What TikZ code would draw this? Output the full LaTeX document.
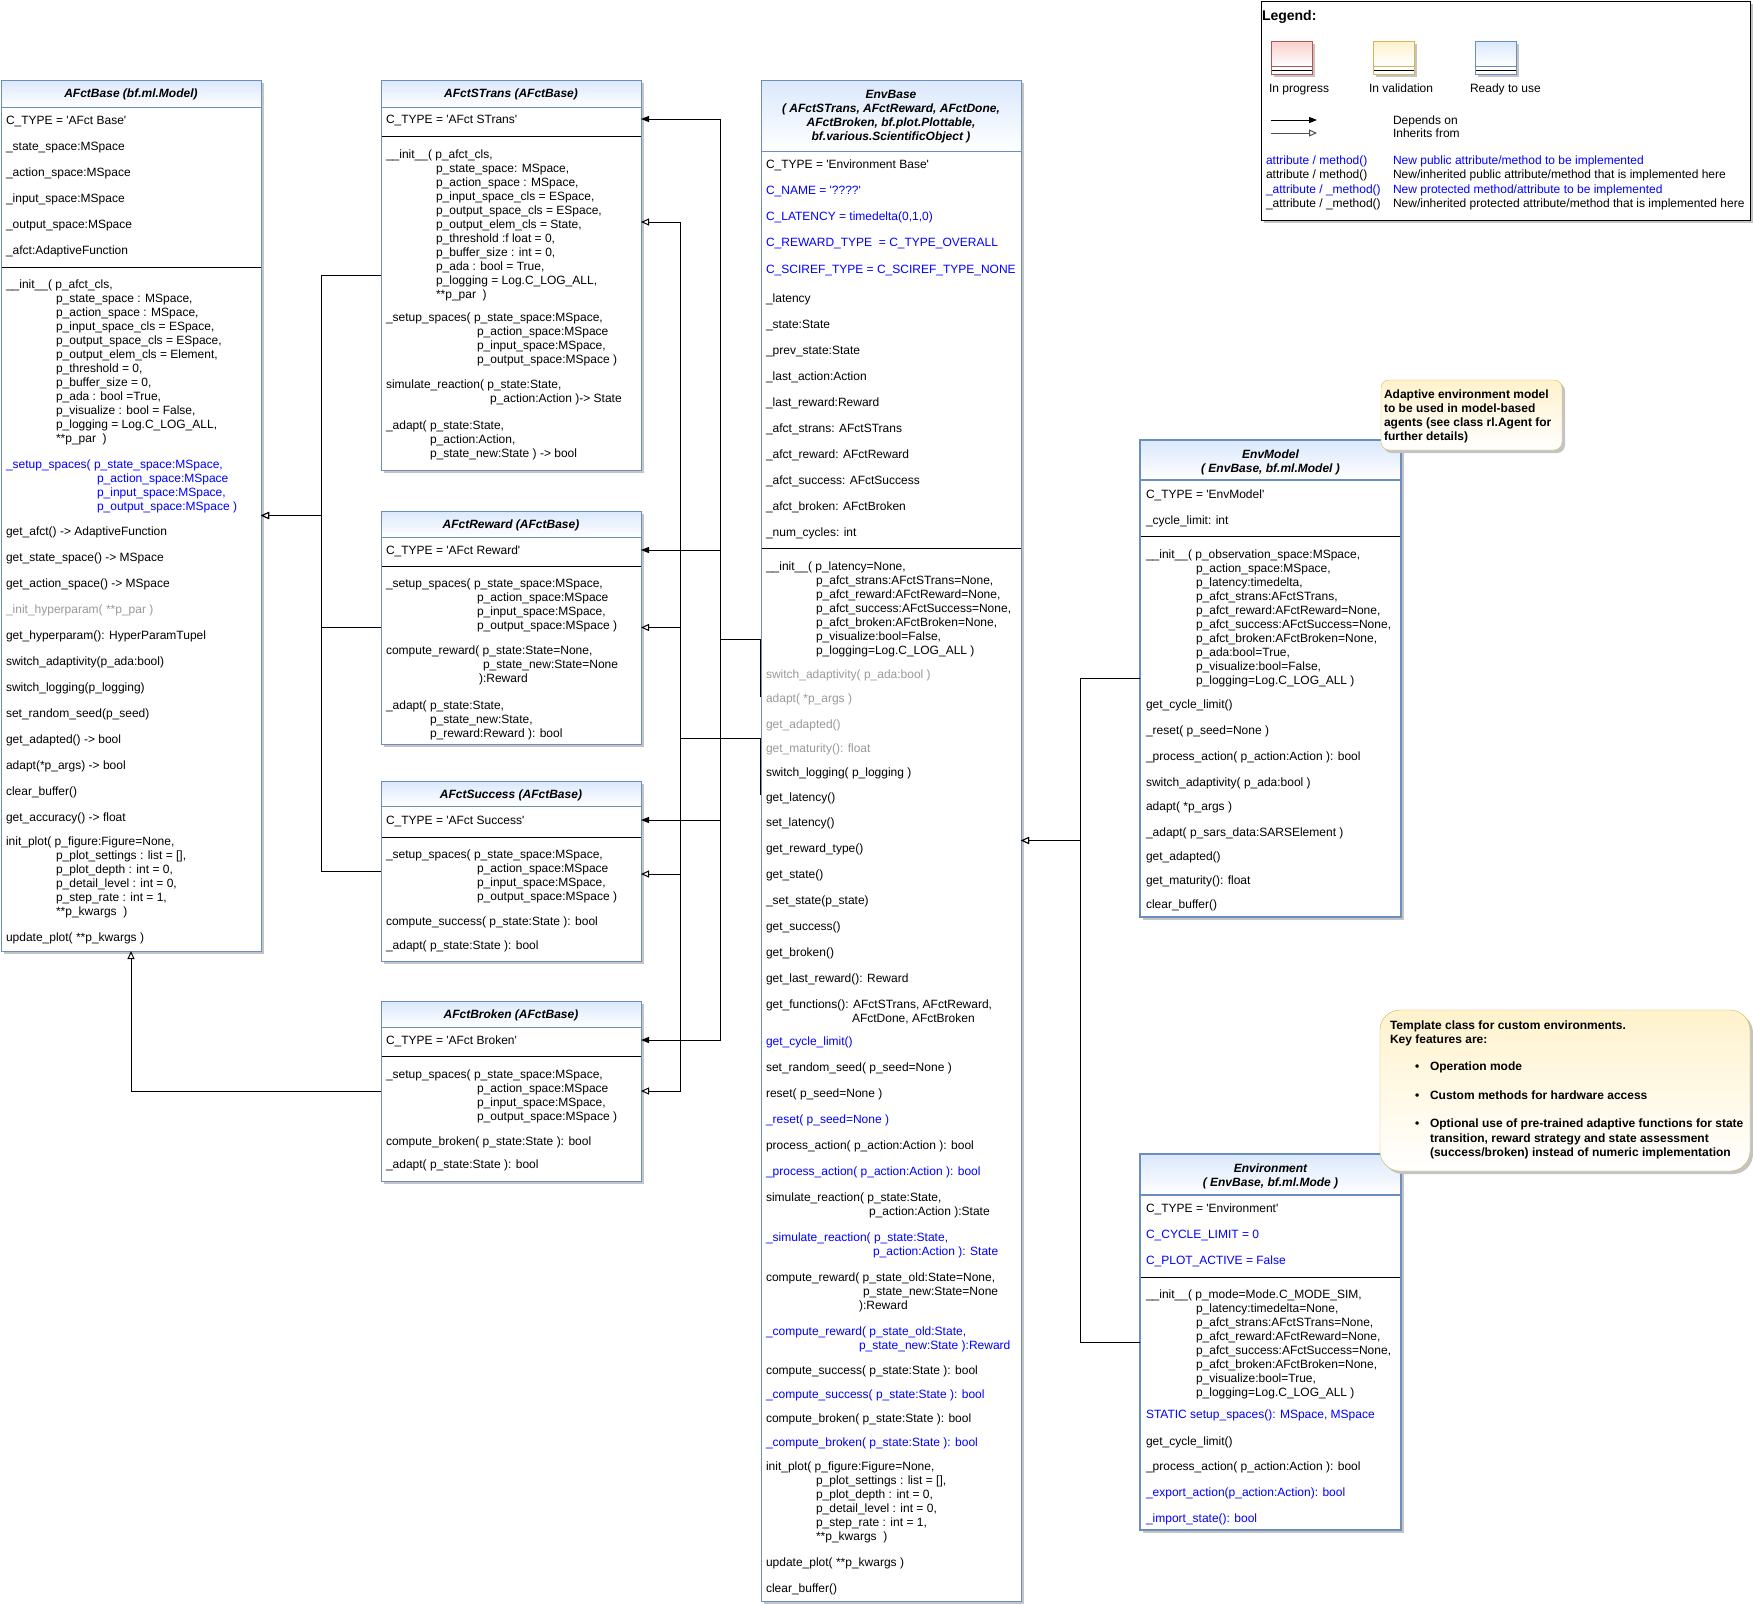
\documentclass[tikz,border=0pt]{standalone}
\usepackage{fontspec}
\setmainfont{Liberation Sans}[Ligatures=TeXOff]
\usetikzlibrary{arrows.meta}

\definecolor{clsblue}{HTML}{6C8EBF}
\definecolor{hdrblue}{HTML}{DAE8FC}
\definecolor{newblue}{HTML}{0000FF}
\definecolor{inhgray}{HTML}{999999}
\definecolor{notey}{HTML}{FFF2CC}
\definecolor{noteb}{HTML}{D6B656}
\definecolor{redfill}{HTML}{F8CECC}
\definecolor{redb}{HTML}{B85450}
\definecolor{shadowc}{HTML}{C4C4C4}

\tikzset{
  txt/.style={anchor=base west, inner sep=0pt, outer sep=0pt, font=\fontsize{12}{14}\selectfont},
  ttl/.style={anchor=base, inner sep=0pt, outer sep=0pt, font=\fontsize{12}{14}\selectfont\bfseries\itshape},
  nb/.style={text=newblue},
  gr/.style={text=inhgray},
  bold/.style={font=\fontsize{12}{14}\selectfont\bfseries},
  boxbody/.style={fill=white, draw=none, inner sep=0pt, outer sep=0pt},
  note/.style={draw=noteb, top color=notey, bottom color=white, inner sep=0pt, outer sep=0pt},
  dep/.style={draw=black, line width=1pt, -{Triangle[length=8pt,width=6pt]}},
  inh/.style={draw=black, line width=1pt, -{Triangle[open,length=8pt,width=7pt,fill=white]}},
}

% one text line: [style]{x}{y of line centre}{text}
\newcounter{tl}
\newcommand\mline[4][]{\stepcounter{tl}\node[txt,#1] (t\arabic{tl}) at (#2,#3+4) {#4};}
% centred bold italic title line: {x}{y}{text}
\newcommand\ctrline[3]{\stepcounter{tl}\node[ttl] (t\arabic{tl}) at (#1,#2+4) {#3};}
% class frame: {name}{x1}{y1}{x2}{y2}{header bottom}{divider}{border width}
\newcommand\umlbox[8]{%
  \fill[shadowc] (#2+3,#3+3) rectangle (#4+3,#5+3);
  \node[boxbody, minimum width=#4-#2, minimum height=#5-#3] (#1) at ({(#2+#4)/2},{(#3+#5)/2}) {};
  \shade[top color=hdrblue, bottom color=white] (#2,#3) rectangle (#4,#6);
  \draw[black, line width=1pt] (#2,#7) -- (#4,#7);
  \draw[clsblue, line width=#8] (#2,#6) -- (#4,#6);
  \draw[clsblue, line width=#8] (#2,#3) rectangle (#4,#5);
}

\begin{document}
\catcode`\_=12
\begin{tikzpicture}[x=1pt,y=-1pt]
\useasboundingbox (0,0) rectangle (1753,1604);
\fill[white] (0,0) rectangle (1753,1604);

% ---------------- AFctBase ----------------
\umlbox{afctbase}{1}{80}{261}{951}{107}{267}{1pt}
\ctrline{131}{93}{AFctBase (bf.ml.Model)}
\mline{6}{120}{C_TYPE = 'AFct Base'}
\mline{6}{146}{_state_space:MSpace}
\mline{6}{172}{_action_space:MSpace}
\mline{6}{198}{_input_space:MSpace}
\mline{6}{224}{_output_space:MSpace}
\mline{6}{250}{_afct:AdaptiveFunction}
\mline{6}{284}{__init__( p_afct_cls,}
\mline{56}{298}{p_state_space : MSpace,}
\mline{56}{312}{p_action_space : MSpace,}
\mline{56}{326}{p_input_space_cls = ESpace,}
\mline{56}{340}{p_output_space_cls = ESpace,}
\mline{56}{354}{p_output_elem_cls = Element,}
\mline{56}{368}{p_threshold = 0,}
\mline{56}{382}{p_buffer_size = 0,}
\mline{56}{396}{p_ada : bool =True,}
\mline{56}{410}{p_visualize : bool = False,}
\mline{56}{424}{p_logging = Log.C_LOG_ALL,}
\mline{56}{438}{**p_par~~)}
\mline[nb]{6}{464}{_setup_spaces( p_state_space:MSpace,}
\mline[nb]{97}{478}{p_action_space:MSpace}
\mline[nb]{97}{492}{p_input_space:MSpace,}
\mline[nb]{97}{506}{p_output_space:MSpace )}
\mline{6}{531}{get_afct() -> AdaptiveFunction}
\mline{6}{557}{get_state_space() -> MSpace}
\mline{6}{583}{get_action_space() -> MSpace}
\mline[gr]{6}{609}{_init_hyperparam( **p_par )}
\mline{6}{635}{get_hyperparam(): HyperParamTupel}
\mline{6}{661}{switch_adaptivity(p_ada:bool)}
\mline{6}{687}{switch_logging(p_logging)}
\mline{6}{713}{set_random_seed(p_seed)}
\mline{6}{739}{get_adapted() -> bool}
\mline{6}{765}{adapt(*p_args) -> bool}
\mline{6}{791}{clear_buffer()}
\mline{6}{817}{get_accuracy() -> float}
\mline{6}{841}{init_plot( p_figure:Figure=None,}
\mline{56}{855}{p_plot_settings : list = [],}
\mline{56}{869}{p_plot_depth : int = 0,}
\mline{56}{883}{p_detail_level : int = 0,}
\mline{56}{897}{p_step_rate : int = 1,}
\mline{56}{911}{**p_kwargs~~)}
\mline{6}{937}{update_plot( **p_kwargs )}

% ---------------- AFctSTrans ----------------
\umlbox{strans}{381}{80}{641}{470}{107}{136}{1pt}
\ctrline{511}{93}{AFctSTrans (AFctBase)}
\mline{386}{119}{C_TYPE = 'AFct STrans'}
\mline{386}{154}{__init__( p_afct_cls,}
\mline{436}{168}{p_state_space: MSpace,}
\mline{436}{182}{p_action_space : MSpace,}
\mline{436}{196}{p_input_space_cls = ESpace,}
\mline{436}{210}{p_output_space_cls = ESpace,}
\mline{436}{224}{p_output_elem_cls = State,}
\mline{436}{238}{p_threshold :f loat = 0,}
\mline{436}{252}{p_buffer_size : int = 0,}
\mline{436}{266}{p_ada : bool = True,}
\mline{436}{280}{p_logging = Log.C_LOG_ALL,}
\mline{436}{294}{**p_par~~)}
\mline{386}{317}{_setup_spaces( p_state_space:MSpace,}
\mline{477}{331}{p_action_space:MSpace}
\mline{477}{345}{p_input_space:MSpace,}
\mline{477}{359}{p_output_space:MSpace )}
\mline{386}{384}{simulate_reaction( p_state:State,}
\mline{490}{398}{p_action:Action )-> State}
\mline{386}{425}{_adapt( p_state:State,}
\mline{430}{439}{p_action:Action,}
\mline{430}{453}{p_state_new:State ) -> bool}

% ---------------- AFctReward ----------------
\umlbox{reward}{381}{511}{641}{744}{537}{566}{1pt}
\ctrline{511}{524}{AFctReward (AFctBase)}
\mline{386}{550}{C_TYPE = 'AFct Reward'}
\mline{386}{583}{_setup_spaces( p_state_space:MSpace,}
\mline{477}{597}{p_action_space:MSpace}
\mline{477}{611}{p_input_space:MSpace,}
\mline{477}{625}{p_output_space:MSpace )}
\mline{386}{650}{compute_reward( p_state:State=None,}
\mline{483}{664}{p_state_new:State=None}
\mline{479}{678}{):Reward}
\mline{386}{705}{_adapt( p_state:State,}
\mline{430}{719}{p_state_new:State,}
\mline{430}{733}{p_reward:Reward ): bool}

% ---------------- AFctSuccess ----------------
\umlbox{success}{381}{781}{641}{961}{806}{837}{1pt}
\ctrline{511}{794}{AFctSuccess (AFctBase)}
\mline{386}{820}{C_TYPE = 'AFct Success'}
\mline{386}{854}{_setup_spaces( p_state_space:MSpace,}
\mline{477}{868}{p_action_space:MSpace}
\mline{477}{882}{p_input_space:MSpace,}
\mline{477}{896}{p_output_space:MSpace )}
\mline{386}{921}{compute_success( p_state:State ): bool}
\mline{386}{945}{_adapt( p_state:State ): bool}

% ---------------- AFctBroken ----------------
\umlbox{broken}{381}{1001}{641}{1181}{1027}{1056}{1pt}
\ctrline{511}{1014}{AFctBroken (AFctBase)}
\mline{386}{1040}{C_TYPE = 'AFct Broken'}
\mline{386}{1074}{_setup_spaces( p_state_space:MSpace,}
\mline{477}{1088}{p_action_space:MSpace}
\mline{477}{1102}{p_input_space:MSpace,}
\mline{477}{1116}{p_output_space:MSpace )}
\mline{386}{1141}{compute_broken( p_state:State ): bool}
\mline{386}{1164}{_adapt( p_state:State ): bool}

% ---------------- EnvBase ----------------
\umlbox{envbase}{761}{80}{1021}{1601}{151}{548}{1pt}
\ctrline{891}{94}{EnvBase}
\ctrline{891}{108}{( AFctSTrans, AFctReward, AFctDone,}
\ctrline{891}{122}{AFctBroken, bf.plot.Plottable,}
\ctrline{891}{136}{bf.various.ScientificObject )}
\mline{766}{164}{C_TYPE = 'Environment Base'}
\mline[nb]{766}{190}{C_NAME = '????'}
\mline[nb]{766}{216}{C_LATENCY = timedelta(0,1,0)}
\mline[nb]{766}{242}{C_REWARD_TYPE~ = C_TYPE_OVERALL}
\mline[nb]{766}{269}{C_SCIREF_TYPE = C_SCIREF_TYPE_NONE}
\mline{766}{298}{_latency}
\mline{766}{324}{_state:State}
\mline{766}{350}{_prev_state:State}
\mline{766}{376}{_last_action:Action}
\mline{766}{402}{_last_reward:Reward}
\mline{766}{428}{_afct_strans: AFctSTrans}
\mline{766}{454}{_afct_reward: AFctReward}
\mline{766}{480}{_afct_success: AFctSuccess}
\mline{766}{506}{_afct_broken: AFctBroken}
\mline{766}{532}{_num_cycles: int}
\mline{766}{566}{__init__( p_latency=None,}
\mline{816}{580}{p_afct_strans:AFctSTrans=None,}
\mline{816}{594}{p_afct_reward:AFctReward=None,}
\mline{816}{608}{p_afct_success:AFctSuccess=None,}
\mline{816}{622}{p_afct_broken:AFctBroken=None,}
\mline{816}{636}{p_visualize:bool=False,}
\mline{816}{650}{p_logging=Log.C_LOG_ALL )}
\mline[gr]{766}{674}{switch_adaptivity( p_ada:bool )}
\mline[gr]{766}{698}{adapt( *p_args )}
\mline[gr]{766}{724}{get_adapted()}
\mline[gr]{766}{748}{get_maturity(): float}
\mline{766}{772}{switch_logging( p_logging )}
\mline{766}{797}{get_latency()}
\mline{766}{822}{set_latency()}
\mline{766}{848}{get_reward_type()}
\mline{766}{874}{get_state()}
\mline{766}{900}{_set_state(p_state)}
\mline{766}{926}{get_success()}
\mline{766}{952}{get_broken()}
\mline{766}{978}{get_last_reward(): Reward}
\mline{766}{1004}{get_functions(): AFctSTrans, AFctReward,}
\mline{852}{1018}{AFctDone, AFctBroken}
\mline[nb]{766}{1041}{get_cycle_limit()}
\mline{766}{1067}{set_random_seed( p_seed=None )}
\mline{766}{1093}{reset( p_seed=None )}
\mline[nb]{766}{1119}{_reset( p_seed=None )}
\mline{766}{1145}{process_action( p_action:Action ): bool}
\mline[nb]{766}{1171}{_process_action( p_action:Action ): bool}
\mline{766}{1197}{simulate_reaction( p_state:State,}
\mline{869}{1211}{p_action:Action ):State}
\mline[nb]{766}{1237}{_simulate_reaction( p_state:State,}
\mline[nb]{873}{1251}{p_action:Action ): State}
\mline{766}{1277}{compute_reward( p_state_old:State=None,}
\mline{863}{1291}{p_state_new:State=None}
\mline{859}{1305}{):Reward}
\mline[nb]{766}{1331}{_compute_reward( p_state_old:State,}
\mline[nb]{859}{1345}{p_state_new:State ):Reward}
\mline{766}{1370}{compute_success( p_state:State ): bool}
\mline[nb]{766}{1394}{_compute_success( p_state:State ): bool}
\mline{766}{1418}{compute_broken( p_state:State ): bool}
\mline[nb]{766}{1442}{_compute_broken( p_state:State ): bool}
\mline{766}{1466}{init_plot( p_figure:Figure=None,}
\mline{816}{1480}{p_plot_settings : list = [],}
\mline{816}{1494}{p_plot_depth : int = 0,}
\mline{816}{1508}{p_detail_level : int = 0,}
\mline{816}{1522}{p_step_rate : int = 1,}
\mline{816}{1536}{**p_kwargs~~)}
\mline{766}{1562}{update_plot( **p_kwargs )}
\mline{766}{1588}{clear_buffer()}

% ---------------- EnvModel ----------------
\umlbox{envmodel}{1140}{440}{1401}{917}{480}{536}{2.5pt}
\ctrline{1270.5}{454}{EnvModel}
\ctrline{1270.5}{468}{( EnvBase, bf.ml.Model )}
\mline{1146}{494}{C_TYPE = 'EnvModel'}
\mline{1146}{520}{_cycle_limit: int}
\mline{1146}{554}{__init__( p_observation_space:MSpace,}
\mline{1196}{568}{p_action_space:MSpace,}
\mline{1196}{582}{p_latency:timedelta,}
\mline{1196}{596}{p_afct_strans:AFctSTrans,}
\mline{1196}{610}{p_afct_reward:AFctReward=None,}
\mline{1196}{624}{p_afct_success:AFctSuccess=None,}
\mline{1196}{638}{p_afct_broken:AFctBroken=None,}
\mline{1196}{652}{p_ada:bool=True,}
\mline{1196}{666}{p_visualize:bool=False,}
\mline{1196}{680}{p_logging=Log.C_LOG_ALL )}
\mline{1146}{704}{get_cycle_limit()}
\mline{1146}{730}{_reset( p_seed=None )}
\mline{1146}{756}{_process_action( p_action:Action ): bool}
\mline{1146}{782}{switch_adaptivity( p_ada:bool )}
\mline{1146}{806}{adapt( *p_args )}
\mline{1146}{832}{_adapt( p_sars_data:SARSElement )}
\mline{1146}{856}{get_adapted()}
\mline{1146}{880}{get_maturity(): float}
\mline{1146}{904}{clear_buffer()}

% ---------------- Environment ----------------
\umlbox{environment}{1140}{1154}{1401}{1530}{1195}{1277}{2.5pt}
\ctrline{1270.5}{1168}{Environment}
\ctrline{1270.5}{1182}{( EnvBase, bf.ml.Mode )}
\mline{1146}{1208}{C_TYPE = 'Environment'}
\mline[nb]{1146}{1234}{C_CYCLE_LIMIT = 0}
\mline[nb]{1146}{1260}{C_PLOT_ACTIVE = False}
\mline{1146}{1294}{__init__( p_mode=Mode.C_MODE_SIM,}
\mline{1196}{1308}{p_latency:timedelta=None,}
\mline{1196}{1322}{p_afct_strans:AFctSTrans=None,}
\mline{1196}{1336}{p_afct_reward:AFctReward=None,}
\mline{1196}{1350}{p_afct_success:AFctSuccess=None,}
\mline{1196}{1364}{p_afct_broken:AFctBroken=None,}
\mline{1196}{1378}{p_visualize:bool=True,}
\mline{1196}{1392}{p_logging=Log.C_LOG_ALL )}
\mline[nb]{1146}{1414}{STATIC setup_spaces(): MSpace, MSpace}
\mline{1146}{1441}{get_cycle_limit()}
\mline{1146}{1466}{_process_action( p_action:Action ): bool}
\mline[nb]{1146}{1492}{_export_action(p_action:Action): bool}
\mline[nb]{1146}{1518}{_import_state(): bool}

% ---------------- notes ----------------
\fill[shadowc, rounded corners=8pt] (1384,383) rectangle (1565,453);
\node[note, rounded corners=8pt, minimum width=181, minimum height=70] (note1) at (1471.5,415) {};
\mline[bold]{1384}{394}{Adaptive environment model}
\mline[bold]{1384}{408}{to be used in model-based}
\mline[bold]{1384}{422}{agents (see class rl.Agent for}
\mline[bold]{1384}{436}{further details)}

\fill[shadowc, rounded corners=20pt] (1383,1013) rectangle (1753,1174);
\node[note, rounded corners=20pt, minimum width=370, minimum height=161] (note2) at (1565,1090.5) {};
\mline[bold]{1390}{1025}{Template class for custom environments.}
\mline[bold]{1390}{1039}{Key features are:}
\mline[bold]{1415}{1066}{•}
\mline[bold]{1430}{1066}{Operation mode}
\mline[bold]{1415}{1095}{•}
\mline[bold]{1430}{1095}{Custom methods for hardware access}
\mline[bold]{1415}{1123}{•}
\mline[bold]{1430}{1123}{Optional use of pre-trained adaptive functions for state}
\mline[bold]{1430}{1138}{transition, reward strategy and state assessment}
\mline[bold]{1430}{1152}{(success/broken) instead of numeric implementation}

% ---------------- legend ----------------
\fill[shadowc] (1264,4) rectangle (1753,223);
\node[draw=black, fill=white, line width=1pt, inner sep=0pt, minimum width=489, minimum height=219] (legend) at (1505.5,110.5) {};
\stepcounter{tl}\node[txt, font=\fontsize{14}{16}\selectfont\bfseries] (t\arabic{tl}) at (1262,20) {Legend:};
% colour swatches
\fill[shadowc] (1274,44) rectangle (1315,77);
\shade[top color=redfill, bottom color=white] (1271,41) rectangle (1312,66);
\fill[white] (1271,66) rectangle (1312,74);
\draw[black] (1271,70) -- (1312,70);
\draw[redb] (1271,66) -- (1312,66);
\draw[redb] (1271,41) rectangle (1312,74);
\fill[shadowc] (1376,44) rectangle (1417,77);
\shade[top color=notey, bottom color=white] (1373,41) rectangle (1414,66);
\fill[white] (1373,66) rectangle (1414,74);
\draw[black] (1373,70) -- (1414,70);
\draw[noteb] (1373,66) -- (1414,66);
\draw[noteb] (1373,41) rectangle (1414,74);
\fill[shadowc] (1478,44) rectangle (1519,77);
\shade[top color=hdrblue, bottom color=white] (1475,41) rectangle (1516,66);
\fill[white] (1475,66) rectangle (1516,74);
\draw[black] (1475,70) -- (1516,70);
\draw[clsblue] (1475,66) -- (1516,66);
\draw[clsblue] (1475,41) rectangle (1516,74);
\mline{1269}{88}{In progress}
\mline{1369}{88}{In validation}
\mline{1470}{88}{Ready to use}
% arrow samples
\coordinate (lgdA) at (1271,120);
\coordinate (lgdB) at (1317,120);
\coordinate (lgiA) at (1271,133);
\coordinate (lgiB) at (1317,133);
\draw[dep] (lgdA) -- (lgdB);
\draw[inh, draw=black!70] (lgiA) -- (lgiB);
\mline{1393}{120}{Depends on}
\mline{1393}{133}{Inherits from}
\mline[nb]{1266}{160}{attribute / method()}
\mline[nb]{1393}{160}{New public attribute/method to be implemented}
\mline{1266}{174}{attribute / method()}
\mline{1393}{174}{New/inherited public attribute/method that is implemented here}
\mline[nb]{1266}{189}{_attribute / _method()}
\mline[nb]{1393}{189}{New protected method/attribute to be implemented}
\mline{1266}{203}{_attribute / _method()}
\mline{1393}{203}{New/inherited protected attribute/method that is implemented here}

% ---------------- connectors ----------------
% AFct classes inherit from AFctBase
\draw[inh] (strans.west) -- ++(-60,0) |- (afctbase.east);
\draw[inh] (reward.west) -- ++(-60,0) |- (afctbase.east);
\draw[inh] (success.west) -- ++(-60,0) |- (afctbase.east);
\draw[inh] (broken.west) -| (afctbase.south);

% EnvBase depends on the four adaptive functions
\coordinate (depA) at ([xshift=-1pt,yshift=143.5pt]envbase.west);
\coordinate (depB) at ([xshift=-1pt,yshift=201.5pt]envbase.west);
\coordinate (depC) at ([xshift=-41pt,yshift=201.5pt]envbase.west);
\draw[dep] (depA) -- (depB) -- (depC) |- (strans.east |- 0,119);
\draw[dep] (depA) -- (depB) -- (depC) |- (reward.east |- 0,550);
\draw[dep] (depA) -- (depB) -- (depC) |- (success.east |- 0,820);
\draw[dep] (depA) -- (depB) -- (depC) |- (broken.east |- 0,1040);

% EnvBase inherits from the four adaptive functions
\coordinate (inhA) at ([xshift=-1pt,yshift=45.5pt]envbase.west);
\coordinate (inhB) at ([xshift=-1pt,yshift=102.5pt]envbase.west);
\coordinate (inhC) at ([xshift=-81pt,yshift=102.5pt]envbase.west);
\draw[inh] (inhA) -- (inhB) -- (inhC) |- (strans.east |- 0,222);
\draw[inh] (inhA) -- (inhB) -- (inhC) |- (reward.east);
\draw[inh] (inhA) -- (inhB) -- (inhC) |- (success.east |- 0,874);
\draw[inh] (inhA) -- (inhB) -- (inhC) |- (broken.east);

% EnvModel and Environment inherit from EnvBase
\draw[inh] (envmodel.west) -- ++(-60,0) |- (envbase.east);
\draw[inh] (environment.west) -- ++(-60,0) |- (envbase.east);
\end{tikzpicture}
\end{document}
